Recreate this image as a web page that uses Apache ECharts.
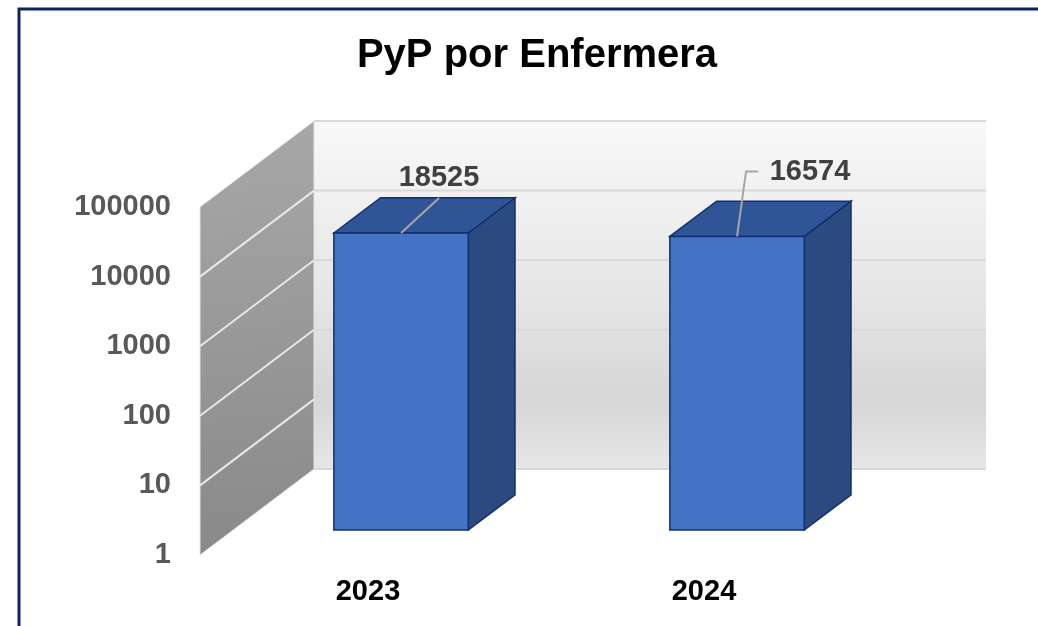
<!DOCTYPE html>
<html>
<head>
<meta charset="utf-8">
<script src="https://cdn.jsdelivr.net/npm/echarts@6/dist/echarts.min.js"></script>
<style>
  html, body { margin: 0; padding: 0; background: #ffffff; }
  #chart { width: 1038px; height: 626px; }
</style>
</head>
<body>
<div id="chart"></div>
<script>
// ---- data ----
const titleText = 'PyP por Enfermera';
const categories = ['2023', '2024'];
const values = [18525, 16574];
const yTicks = [1, 10, 100, 1000, 10000, 100000];

// ---- 3D look (styling constants) ----
const DEPTH_DX = 114, DEPTH_DY = -86;   // full depth of the plot box
const BAR_Z_FRONT = 0.29, BAR_Z_BACK = 0.70;
const BAR_WIDTH_RATIO = 0.4;
const FONT = '"Liberation Sans", Arial, sans-serif';
// label placement relative to the bar's front-top centre
const labelLayout = [
  { text: [38, -55], leader: [[0, 0], [38, -35]] },
  { text: [73, -64], leader: [[0, 0], [9, -65], [21, -65]] }
];

const chart = echarts.init(document.getElementById('chart'), null, { renderer: 'canvas' });

function renderWalls(params, api) {
  if (params.dataIndex !== 0) return;
  const cs = params.coordSys;
  const x0 = cs.x, x1 = cs.x + cs.width;
  const yTop = api.coord([0, yTicks[yTicks.length - 1]])[1];
  const yBot = api.coord([0, yTicks[0]])[1];
  const children = [];
  // back wall
  children.push({
    type: 'rect',
    shape: { x: x0 + DEPTH_DX, y: yTop + DEPTH_DY, width: x1 - x0, height: yBot - yTop },
    style: {
      fill: new echarts.graphic.LinearGradient(0, 0, 0, 1, [
        { offset: 0, color: '#f8f8f8' },
        { offset: 0.5, color: '#e6e6e6' },
        { offset: 0.8, color: '#d6d6d6' },
        { offset: 1, color: '#e6e6e6' }
      ])
    }
  });
  // left wall
  children.push({
    type: 'polygon',
    shape: { points: [[x0, yTop], [x0 + DEPTH_DX, yTop + DEPTH_DY], [x0 + DEPTH_DX, yBot + DEPTH_DY], [x0, yBot]] },
    style: {
      fill: new echarts.graphic.LinearGradient(0, 0, 0.3, 1, [
        { offset: 0, color: '#a8a8a8' },
        { offset: 1, color: '#898989' }
      ]),
      stroke: '#e4e4e4', lineWidth: 1
    }
  });
  yTicks.forEach(function (t) {
    const y = api.coord([0, t])[1];
    // back wall grid line
    children.push({
      type: 'line',
      shape: { x1: x0 + DEPTH_DX, y1: y + DEPTH_DY, x2: x1 + DEPTH_DX, y2: y + DEPTH_DY },
      style: { stroke: '#d9d9d9', lineWidth: 2 }
    });
    // left wall grid line
    if (t !== yTicks[0] && t !== yTicks[yTicks.length - 1]) {
      children.push({
        type: 'line',
        shape: { x1: x0, y1: y, x2: x0 + DEPTH_DX, y2: y + DEPTH_DY },
        style: { stroke: '#e8e8e8', lineWidth: 2 }
      });
    }
  });
  return { type: 'group', children: children };
}

function renderBar(params, api) {
  const idx = api.value(0);
  const v = api.value(1);
  const cs = params.coordSys;
  const band = cs.width / categories.length;
  const base = api.coord([idx, yTicks[0]]);
  const topPt = api.coord([idx, v]);
  const w = band * BAR_WIDTH_RATIO;
  const ox = BAR_Z_FRONT * DEPTH_DX, oy = BAR_Z_FRONT * DEPTH_DY;
  const ddx = (BAR_Z_BACK - BAR_Z_FRONT) * DEPTH_DX, ddy = (BAR_Z_BACK - BAR_Z_FRONT) * DEPTH_DY;
  const left = base[0] - w / 2 + ox, right = left + w;
  const bottom = base[1] + oy, top = topPt[1] + oy;
  const stroke = '#10306e';
  const lay = labelLayout[params.dataIndex];
  const cx = (left + right) / 2;
  return {
    type: 'group',
    children: [
      {
        type: 'polygon',
        shape: { points: [[right, top], [right + ddx, top + ddy], [right + ddx, bottom + ddy], [right, bottom]] },
        style: { fill: '#2b4a80', stroke: stroke, lineWidth: 1.5 }
      },
      {
        type: 'polygon',
        shape: { points: [[left, top], [left + ddx, top + ddy], [right + ddx, top + ddy], [right, top]] },
        style: { fill: '#305597', stroke: stroke, lineWidth: 1.5 }
      },
      {
        type: 'rect',
        shape: { x: left, y: top, width: w, height: bottom - top },
        style: { fill: '#4472c4', stroke: stroke, lineWidth: 1.5 }
      },
      {
        type: 'polyline',
        shape: { points: lay.leader.map(function (p) { return [cx + p[0], top + p[1]]; }) },
        style: { stroke: '#a6a6a6', lineWidth: 2, fill: null }
      },
      {
        type: 'text',
        x: cx + lay.text[0], y: top + lay.text[1],
        style: {
          text: String(v), fill: '#404040', fontSize: 29, fontWeight: 'bold', fontFamily: FONT,
          align: 'center', verticalAlign: 'middle'
        }
      }
    ]
  };
}

chart.setOption({
  backgroundColor: '#ffffff',
  animation: false,
  graphic: [
    {
      type: 'rect', z: 100,
      shape: { x: 19, y: 9, width: 1200, height: 800 },
      style: { fill: null, stroke: '#0c2660', lineWidth: 3 }
    },
    {
      type: 'text', x: 537, y: 56, z: 100,
      style: {
        text: titleText, fill: '#000000', fontSize: 40, fontWeight: 'bold', fontFamily: FONT,
        align: 'center', verticalAlign: 'middle'
      }
    }
  ],
  grid: { left: 200, right: 166, top: 207, bottom: 71, containLabel: false },
  xAxis: {
    type: 'category',
    data: categories,
    boundaryGap: true,
    axisLine: { show: false },
    axisTick: { show: false },
    axisLabel: { margin: 22, fontSize: 29, fontWeight: 'bold', color: '#000000', fontFamily: FONT }
  },
  yAxis: {
    type: 'log',
    logBase: 10,
    min: 1,
    max: 100000,
    axisLine: { show: false },
    axisTick: { show: false },
    splitLine: { show: false },
    axisLabel: {
      margin: 29, fontSize: 29, fontWeight: 'bold', color: '#595959', fontFamily: FONT,
      formatter: function (val) { return String(Math.round(val)); }
    }
  },
  series: [
    {
      type: 'custom', name: 'walls', z: 1, silent: true,
      renderItem: renderWalls,
      data: [[0, yTicks[0]]],
      encode: { x: 0, y: 1 }
    },
    {
      type: 'custom', name: 'PyP', z: 2,
      renderItem: renderBar,
      data: values.map(function (v, i) { return [i, v]; }),
      encode: { x: 0, y: 1 }
    }
  ]
});
</script>
</body>
</html>
